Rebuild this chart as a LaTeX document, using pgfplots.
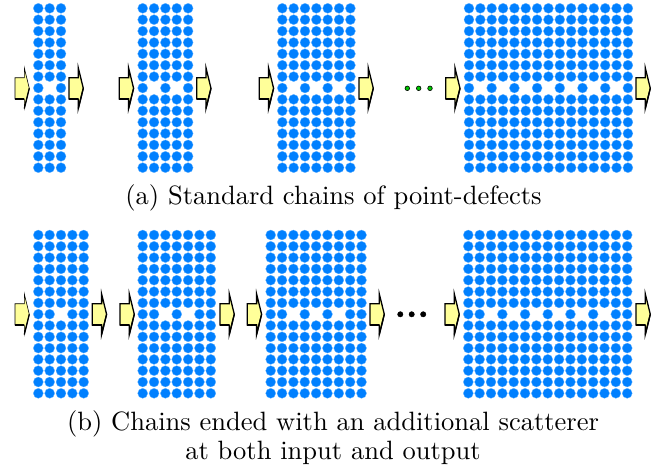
\documentclass[border=0pt]{standalone}
\usepackage{pgfplots}
\pgfplotsset{compat=1.18}

\definecolor{rodblue}{RGB}{0,128,255}
\definecolor{arrowfill}{RGB}{255,255,153}
\definecolor{dotgreen}{RGB}{0,200,0}

\tikzset{caption/.style={anchor=base, scale=2.65, font=\fontsize{10}{12}\selectfont}}

% block arrow marking the input / output ports; origin at the left end, mid height
\pgfdeclareplotmark{portarrow}{%
  \pgfpathmoveto{\pgfpoint{0pt}{10.6pt}}%
  \pgfpathlineto{\pgfpoint{9.3pt}{10.6pt}}%
  \pgfpathlineto{\pgfpoint{9.3pt}{20.4pt}}%
  \pgfpathlineto{\pgfpoint{14.3pt}{0pt}}%
  \pgfpathlineto{\pgfpoint{9.3pt}{-20.2pt}}%
  \pgfpathlineto{\pgfpoint{9.3pt}{-10.7pt}}%
  \pgfpathlineto{\pgfpoint{0pt}{-10.7pt}}%
  \pgfpathclose
  \pgfusepathqfillstroke
  % darker lower edges
  \pgfsetlinewidth{1.3pt}%
  \pgfpathmoveto{\pgfpoint{0pt}{-10.7pt}}%
  \pgfpathlineto{\pgfpoint{9.3pt}{-10.7pt}}%
  \pgfusepathqstroke
  \pgfpathmoveto{\pgfpoint{14.3pt}{0pt}}%
  \pgfpathlineto{\pgfpoint{9.3pt}{-20.2pt}}%
  \pgfusepathqstroke
}

% square lattice of rods: #1 columns, #2 rows, #3 columns kept in the defect row, #4 defect row
\newcommand\rodlattice[4]{%
  \edef\latcols{#1}\edef\latrows{#2}\edef\latkept{#3}%
  \gdef\latpts{}%
  \foreach \cx in \latcols {\foreach \ry in \latrows {\xdef\latpts{\latpts(\cx,\ry)}}}%
  \foreach \cx in \latkept {\xdef\latpts{\latpts(\cx,#4)}}%
  \edef\latcmd{\noexpand\addplot[rod] coordinates {\latpts};}%
  \latcmd
}

\def\rowsTop{8.3,19.7,31.1,42.5,53.8,65.2,76.6,99.4,110.8,122.2,133.5,144.9,156.3,167.7}
\def\rowsBot{235,246.3,257.6,268.9,280.2,291.6,302.9,325.5,336.8,348.1,359.4,370.7,382.0,393.3}

\begin{document}
\begin{tikzpicture}
\begin{axis}[
  x=1pt, y=1pt,
  xmin=0, xmax=665, ymin=0, ymax=468,
  y dir=reverse,
  hide axis, clip=false,
  rod/.style={only marks, mark=*, mark size=5pt,
    mark options={fill=rodblue, draw=rodblue!60!white, line width=0.3pt}},
  port/.style={only marks, mark=portarrow,
    mark options={fill=arrowfill, draw=black, line width=0.6pt}},
]
\path (axis cs:0,0) rectangle (axis cs:665,468);

% (a) standard chains of point defects
\rodlattice{38.3,49.65,61.0}{\rowsTop}{38.3,61.0}{88.0}
\rodlattice{142.7,154.05,165.4,176.75,188.1}{\rowsTop}{142.7,165.4,188.1}{88.0}
\rodlattice{282.3,293.65,305.0,316.35,327.7,339.05,350.4}{\rowsTop}{282.3,305.0,327.7,350.4}{88.0}
\rodlattice{469.0,480.35,491.7,503.05,514.4,525.75,537.1,548.45,559.8,571.15,582.5,593.85,605.2,616.55,627.9}{\rowsTop}{469.0,491.7,514.4,537.1,559.8,582.5,605.2,627.9}{88.0}

\addplot[port] coordinates {(15,88.3) (69,88.3) (119.3,88.3) (196.7,88.3)
  (259.3,88.3) (359,88.3) (445.7,88.3) (636,88.3)};
\addplot[only marks, mark=*, mark size=2.3pt,
  mark options={fill=dotgreen, draw=black, line width=0.6pt}]
  coordinates {(407.3,88.3) (418.7,88.3) (430.0,88.3)};

% (b) chains ended with an extra scatterer
\rodlattice{38.3,49.65,61.0,72.35,83.7}{\rowsBot}{38.3,49.65,72.35,83.7}{314.2}
\rodlattice{142.7,154.05,165.4,176.75,188.1,199.45,210.8}{\rowsBot}{142.7,154.05,176.75,199.45,210.8}{314.2}
\rodlattice{270.7,282.05,293.4,304.75,316.1,327.45,338.8,350.15,361.5}{\rowsBot}{270.7,282.05,304.75,327.45,350.15,361.5}{314.2}
\rodlattice{468.3,479.65,491.0,502.35,513.7,525.05,536.4,547.75,559.1,570.45,581.8,593.15,604.5,615.85,627.2}{\rowsBot}{468.3,479.65,502.35,525.05,547.75,570.45,593.15,615.85,627.2}{314.2}

\addplot[port] coordinates {(15,314.3) (92.3,314.3) (120,314.3) (220,314.3)
  (247.3,314.3) (370,314.3) (445,314.3) (636,314.3)};
\addplot[only marks, mark=*, mark size=2.7pt, mark options={fill=black, draw=black}]
  coordinates {(400.3,314.3) (411.7,314.3) (423.2,314.3)};

\node[caption] at (axis cs:333.5,204.3) {(a) Standard chains of point-defects};
\node[caption] at (axis cs:333,430.5) {(b) Chains ended with an additional scatterer};
\node[caption] at (axis cs:333,459) {at both input and output};
\end{axis}
\end{tikzpicture}
\end{document}
